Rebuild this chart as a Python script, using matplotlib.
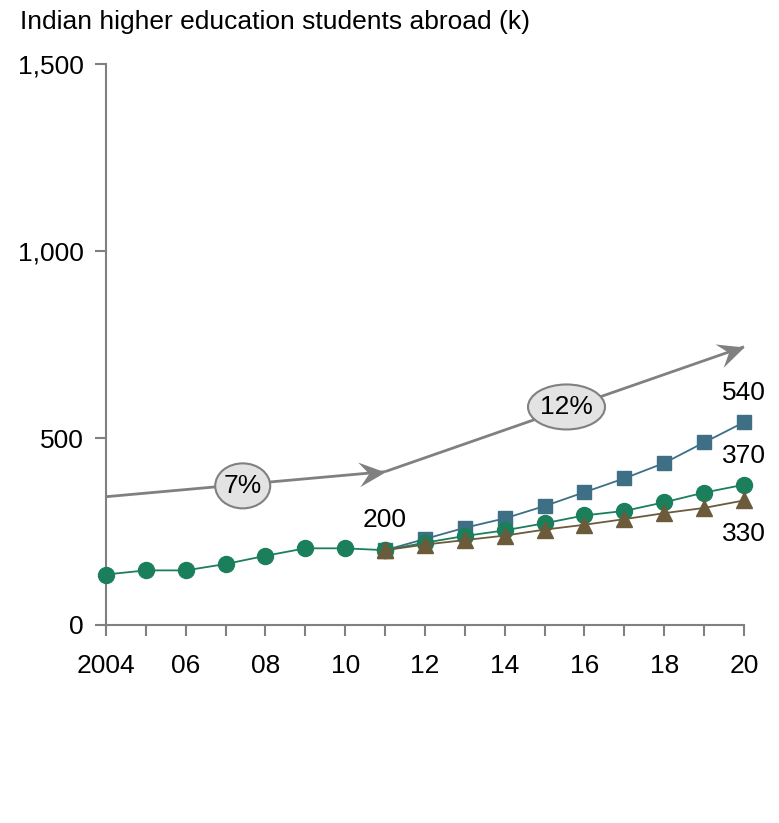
#!/usr/bin/env python3
import numpy as np
import matplotlib
matplotlib.use('Agg')
import matplotlib.pyplot as plt
from matplotlib.path import Path
from matplotlib.markers import MarkerStyle
from matplotlib.transforms import Affine2D, ScaledTranslation
from matplotlib.patches import Ellipse

plt.rcParams['font.family'] = ['Liberation Sans', 'DejaVu Sans']

#----------------data--------------------
years_hist = [2004, 2005, 2006, 2007, 2008, 2009, 2010, 2011]
hist_vals  = [135, 146, 146, 163, 185, 205, 205, 200]

years_proj = [2011, 2012, 2013, 2014, 2015, 2016, 2017, 2018, 2019, 2020]
high_vals  = [200, 230, 260, 285, 318, 355, 392, 433, 488, 542]
mid_vals   = [200, 220, 238, 253, 272, 293, 305, 328, 354, 375]
low_vals   = [200, 215, 227, 239, 255, 268, 283, 299, 313, 333]

xtick_years  = list(range(2004, 2021))
xtick_labels = ['2004' if y == 2004 else ('%02d' % (y % 100) if y % 2 == 0 else '')
                for y in xtick_years]
yticks = [0, 500, 1000, 1500]
ytick_labels = ['0', '500', '1,000', '1,500']

cagr_labels = ['7%', '12%']
end_labels = ['540', '370', '330']

#----------------style-------------------
c_green = '#1b7f5b'
c_blue  = '#3e6f84'
c_brown = '#6b5b3b'
c_gray  = '#808080'
fs = 19

fig = plt.figure(figsize=(7.79, 8.23), dpi=100)
ax = fig.add_axes([0.136, 0.2406, 0.819, 0.6816])

ax.plot(years_proj, high_vals, color=c_blue, lw=1.3, marker='s', ms=10.5, clip_on=False, zorder=3)
ax.plot(years_proj, low_vals, color=c_brown, lw=1.3, marker='^', ms=11.5, clip_on=False, zorder=5)
ax.plot(years_proj, mid_vals, color=c_green, lw=1.3, marker='o', ms=11.5, clip_on=False, zorder=4)
ax.plot(years_hist, hist_vals, color=c_green, lw=1.3, marker='o', ms=11.5, clip_on=False, zorder=4)
# triangle on top at 2011
ax.plot(years_proj[:1], low_vals[:1], color=c_brown, marker='^', ms=11.5, clip_on=False, zorder=6)

ax.set_xlim(2004, 2020)
ax.set_ylim(0, 1500)
ax.set_xticks(xtick_years)
ax.set_xticklabels(xtick_labels)
ax.set_yticks(yticks)
ax.set_yticklabels(ytick_labels)

for s in ['top', 'right']:
    ax.spines[s].set_visible(False)
for s in ['left', 'bottom']:
    ax.spines[s].set_color(c_gray)
    ax.spines[s].set_linewidth(1.5)
ax.tick_params(axis='both', colors=c_gray, width=1.5, length=8, labelsize=fs, labelcolor='black')
ax.tick_params(axis='x', pad=13)
ax.tick_params(axis='y', pad=8)

#----------------CAGR arrows--------------
stealth = Path([(0, 0), (-1, 0.47), (-0.62, 0), (-1, -0.47), (0, 0)],
               [Path.MOVETO, Path.LINETO, Path.LINETO, Path.LINETO, Path.CLOSEPOLY])

def draw_arrow(p0, p1):
    ax.plot([p0[0], p1[0]], [p0[1], p1[1]], color=c_gray, lw=2, clip_on=False, zorder=2,
            solid_capstyle='butt')
    d0 = ax.transData.transform(p0)
    d1 = ax.transData.transform(p1)
    ang = np.degrees(np.arctan2(d1[1] - d0[1], d1[0] - d0[0]))
    m = MarkerStyle(stealth, transform=Affine2D().rotate_deg(ang))
    ax.plot([p1[0]], [p1[1]], marker=m, ms=38, color=c_gray, mew=0, clip_on=False, zorder=2)

draw_arrow((2004, 343), (2011, 410))
draw_arrow((2011, 410), (2020, 744))

def cagr_bubble(x, y, txt, w_px, h_px):
    tr = fig.dpi_scale_trans + ScaledTranslation(x, y, ax.transData)
    ax.add_patch(Ellipse((0, 0), w_px / 100, h_px / 100, transform=tr,
                         fc='#e3e3e3', ec=c_gray, lw=1.5, zorder=7, clip_on=False))
    ax.text(x, y, txt, fontsize=fs, ha='center', va='center', zorder=8)

cagr_bubble(2007.43, 372, cagr_labels[0], 55, 45)
cagr_bubble(2015.55, 583, cagr_labels[1], 77, 45)

#----------------value labels-------------
ax.text(2011, 282, '200', fontsize=fs, ha='center', va='center')
ax.text(2020, 620, end_labels[0], fontsize=fs, ha='center', va='center', clip_on=False)
ax.text(2020, 452, end_labels[1], fontsize=fs, ha='center', va='center', clip_on=False)
ax.text(2020, 244, end_labels[2], fontsize=fs, ha='center', va='center', clip_on=False)

fig.text(20 / 779, 1 - 22 / 823, 'Indian higher education students abroad (k)',
         fontsize=fs, ha='left', va='center')

fig.savefig('out.png', dpi=100)
